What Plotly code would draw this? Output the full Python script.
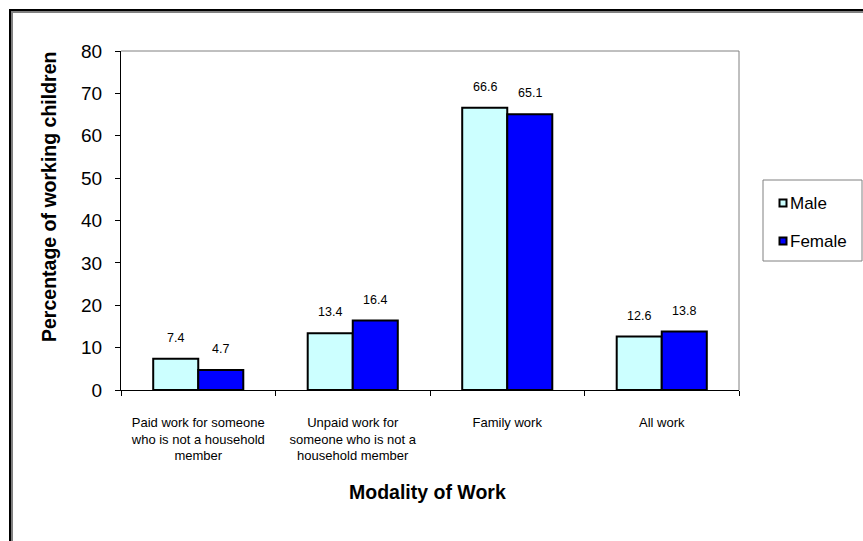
import plotly.graph_objects as go

categories = [
    "Paid work for someone<br>who is not a household<br>member",
    "Unpaid work for<br>someone who is not a<br>household member",
    "Family work",
    "All work",
]
male = [7.4, 13.4, 66.6, 12.6]
female = [4.7, 16.4, 65.1, 13.8]
series_names = ["Male", "Female"]
series_colors = ["#CCFFFF", "#0000FF"]
y_ticks = [0, 10, 20, 30, 40, 50, 60, 70, 80]

W, H = 863, 541
L, R, T, B = 121, 124, 51, 151
plot_w = W - L - R
plot_h = H - T - B

bargap = 0.417
cat_px = plot_w / len(categories)
bar_px = cat_px * (1 - bargap) / 2

FONT = "Liberation Sans, Arial, sans-serif"


def px_x(p):
    return (p - L) / plot_w


def px_y(p):
    return (H - B - p) / plot_h


fig = go.Figure()
for name, vals, color in zip(series_names, (male, female), series_colors):
    fig.add_trace(go.Bar(
        x=categories, y=vals, name=name,
        marker=dict(color=color, line=dict(color="black", width=2)),
        showlegend=False,
    ))

# value labels above each bar
for vals, shift in ((male, -bar_px / 2), (female, bar_px / 2)):
    for c, v in zip(categories, vals):
        fig.add_annotation(
            x=c, y=v, xref="x", yref="y", text=f"{v:.1f}", showarrow=False,
            xshift=shift, yshift=12, xanchor="center", yanchor="bottom",
            font=dict(family=FONT, size=12.5, color="black"),
        )

# axis titles
fig.add_annotation(
    x=px_x(49), y=px_y(197), xref="paper", yref="paper",
    xanchor="center", yanchor="middle",
    text="<b>Percentage of working children</b>", textangle=-90, showarrow=False,
    font=dict(family=FONT, size=19.5, color="black"),
)
fig.add_annotation(
    x=px_x(427), y=px_y(492), xref="paper", yref="paper",
    xanchor="center", yanchor="middle",
    text="<b>Modality of Work</b>", showarrow=False,
    font=dict(family=FONT, size=19.5, color="black"),
)

# gray top and right edges of the plot frame
fig.add_shape(type="line", xref="paper", yref="paper", x0=0, x1=1, y0=1, y1=1,
              line=dict(color="#808080", width=1))
fig.add_shape(type="line", xref="paper", yref="paper", x0=1, x1=1, y0=0, y1=1,
              line=dict(color="#808080", width=1))

# legend box with swatches and series names
fig.add_shape(type="rect", xref="paper", yref="paper",
              x0=px_x(763), x1=px_x(862), y0=px_y(180), y1=px_y(261),
              line=dict(color="#808080", width=1), fillcolor="white")
for i, (name, color) in enumerate(zip(series_names, series_colors)):
    cy = 203 + 38 * i
    fig.add_shape(type="rect", xref="paper", yref="paper",
                  x0=px_x(779.5), x1=px_x(786.5), y0=px_y(cy - 3.5), y1=px_y(cy + 3.5),
                  line=dict(color="black", width=2), fillcolor=color)
    fig.add_annotation(
        x=px_x(788), y=px_y(cy), xref="paper", yref="paper",
        xanchor="left", yanchor="middle", text=name, showarrow=False,
        font=dict(family=FONT, size=17, color="black"),
    )

# outer chart border (shadowed)
fig.add_shape(type="rect", xref="paper", yref="paper",
              x0=px_x(12), x1=px_x(W + 20), y0=px_y(12), y1=px_y(H + 20),
              line=dict(color="#808080", width=2))
fig.add_shape(type="rect", xref="paper", yref="paper",
              x0=px_x(10), x1=px_x(W + 20), y0=px_y(10), y1=px_y(H + 20),
              line=dict(color="black", width=2))

fig.update_layout(
    width=W, height=H,
    margin=dict(l=L, r=R, t=T, b=B, autoexpand=False),
    paper_bgcolor="white", plot_bgcolor="white",
    barmode="group", bargap=bargap, bargroupgap=0,
    font=dict(family=FONT, color="black"),
    showlegend=False,
    xaxis=dict(
        showline=True, linecolor="black", linewidth=1,
        ticks="outside", ticklen=5, tickcolor="black", tickson="boundaries",
        tickfont=dict(family=FONT, size=13, color="black"),
        ticklabelstandoff=20, showgrid=False, automargin=False,
    ),
    yaxis=dict(
        range=[0, 80], tickvals=y_ticks,
        showline=True, linecolor="black", linewidth=1,
        ticks="outside", ticklen=5, tickcolor="black",
        tickfont=dict(family=FONT, size=19, color="black"),
        ticklabelstandoff=9, showgrid=False, zeroline=False, automargin=False,
    ),
)

fig.write_html("out.html")
